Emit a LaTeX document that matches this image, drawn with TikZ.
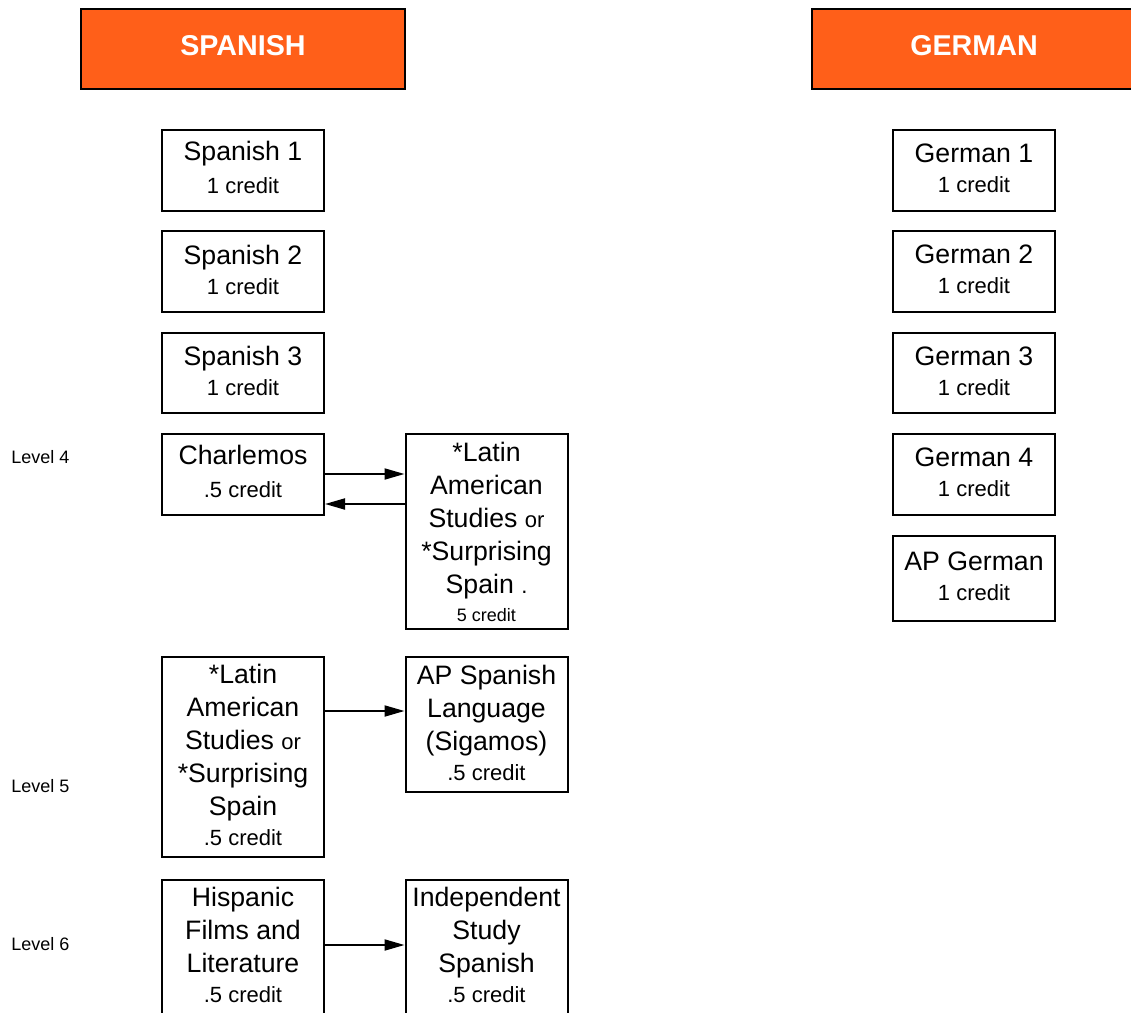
\documentclass[tikz,border=0pt]{standalone}
\usepackage{fontspec}
\setmainfont{Liberation Sans}
\usetikzlibrary{arrows.meta}

\definecolor{hdrorange}{RGB}{255,95,25}
\newcommand{\crsfont}{\fontsize{20}{24.75}\selectfont}
\newcommand{\credfont}{\fontsize{16.5}{22}\selectfont}
\newcommand{\smallcred}{\fontsize{13.5}{18}\selectfont}

\tikzset{every picture/.style={line width=1.5pt}}
\tikzset{
  hdr/.style={draw=black, fill=hdrorange, text=white, font=\fontsize{21.5}{25}\selectfont\bfseries, minimum width=243pt, minimum height=60pt, text depth=6pt},
  course/.style={draw=black, align=center, font=\crsfont, minimum width=121.5pt, inner sep=1pt, text depth=3pt},
  lvl/.style={anchor=west, font=\smallcred},
  arr/.style={-{Triangle[length=15pt,width=8.25pt]}}
}

\begin{document}
\begin{tikzpicture}[x=0.75pt,y=0.75pt,yscale=-1]
	\useasboundingbox (0,0) rectangle (1131,1013);

	% Headers
	\node [hdr] (hspan) at (243,49) {SPANISH};
	\node [hdr] (hgerm) at (974,49) {GERMAN};

	% Spanish column
	\node [course, minimum height=60.75pt, text depth=4.5pt] (sp1) at (243,170.5) {Spanish 1\\{\credfont 1 credit}};
	\node [course, minimum height=60.75pt] (sp2) at (243,271.5) {Spanish 2\\[-2.25pt]{\credfont 1 credit}};
	\node [course, minimum height=60pt] (sp3) at (243,373) {Spanish 3\\[-2.25pt]{\credfont 1 credit}};
	\node [course, minimum height=60.75pt, text depth=4.5pt] (charl) at (243,474.5) {Charlemos\\{\credfont .5 credit}};
	\node [course, minimum height=146.25pt, text depth=0pt] (las4) at (486.5,531.5) {*Latin\\American\\Studies {\credfont or}\\*Surprising\\Spain {\credfont .}\\[-3.75pt]{\smallcred 5 credit}};
	\node [course, minimum height=150pt] (las5) at (243,757) {*Latin\\American\\Studies {\credfont or}\\*Surprising\\Spain\\[-2.25pt]{\credfont .5 credit}};
	\node [course, minimum height=101.25pt] (apsp) at (486.5,724.5) {AP Spanish\\Language\\(Sigamos)\\[-2.25pt]{\credfont .5 credit}};
	\node [course, minimum height=102pt, text depth=4.5pt] (hisp) at (243,948) {Hispanic\\Films and\\Literature\\[-2.25pt]{\credfont .5 credit}};
	\node [course, minimum height=102pt, text depth=4.5pt] (indep) at (486.5,948) {Independent\\Study\\Spanish\\[-2.25pt]{\credfont .5 credit}};

	% German column
	\node [course, minimum height=60.75pt] (ge1) at (974,170.5) {German 1\\[-2.25pt]{\credfont 1 credit}};
	\node [course, minimum height=60.75pt] (ge2) at (974,271.5) {German 2\\[-2.25pt]{\credfont 1 credit}};
	\node [course, minimum height=60pt] (ge3) at (974,373) {German 3\\[-2.25pt]{\credfont 1 credit}};
	\node [course, minimum height=60.75pt] (ge4) at (974,474.5) {German 4\\[-2.25pt]{\credfont 1 credit}};
	\node [course, minimum height=63.75pt] (apge) at (974,578.5) {AP German\\[-2.25pt]{\credfont 1 credit}};

	% Level labels
	\node [lvl] (lv4) at (6,457) {Level 4};
	\node [lvl] (lv5) at (6,786) {Level 5};
	\node [lvl] (lv6) at (6,944) {Level 6};

	% Arrows
	\draw [arr] ([yshift=30.75pt]charl.north east) -- ([yshift=30.75pt]charl.north east -| las4.west);
	\draw [arr] ([yshift=53.25pt]charl.north east -| las4.west) -- ([yshift=53.25pt]charl.north east);
	\draw [arr] ([yshift=41.25pt]las5.north east) -- ([yshift=41.25pt]apsp.north west);
	\draw [arr] ([yshift=49.5pt]hisp.north east) -- ([yshift=49.5pt]indep.north west);

\end{tikzpicture}
\end{document}
